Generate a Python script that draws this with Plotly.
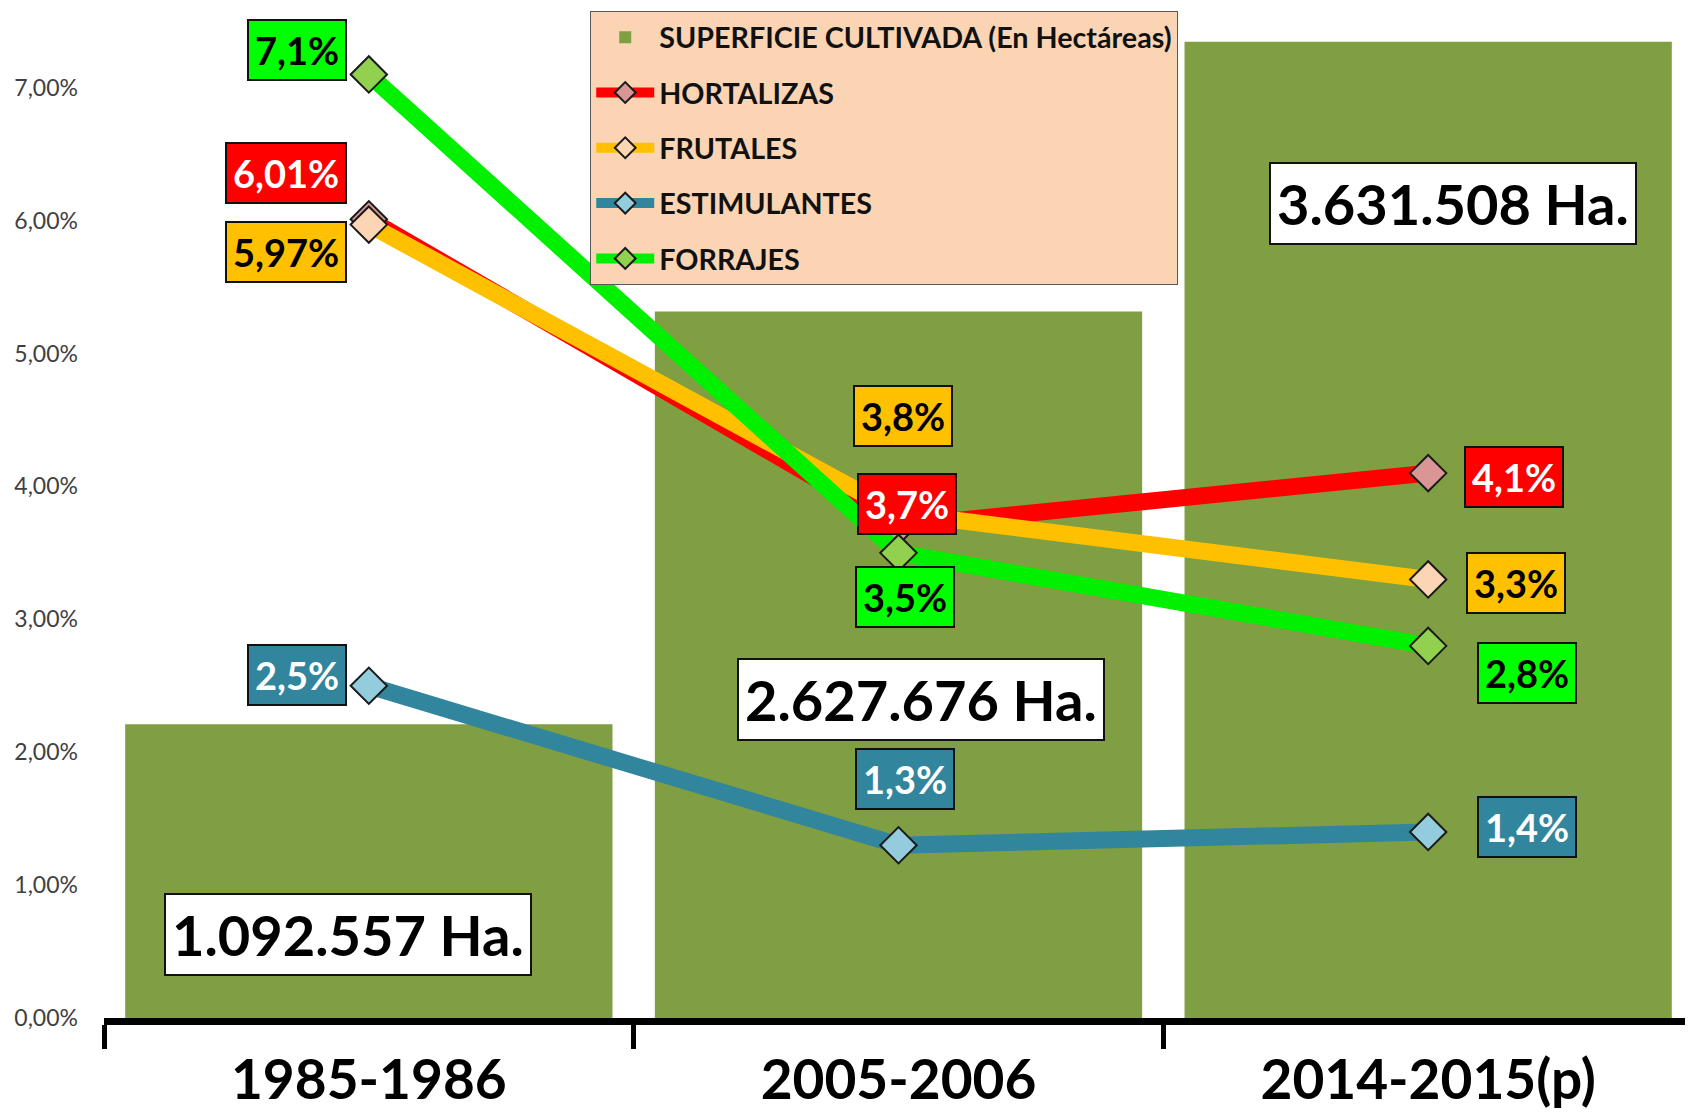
import plotly.graph_objects as go

# ---------------- data ----------------
CATEGORIES = ["1985-1986", "2005-2006", "2014-2015(p)"]
SUPERFICIE_HA = [1092557, 2627676, 3631508]
HORTALIZAS = [6.01, 3.7, 4.1]
FRUTALES = [5.97, 3.8, 3.3]
ESTIMULANTES = [2.5, 1.3, 1.4]
FORRAJES = [7.1, 3.5, 2.8]
PCT_TICKS = [0, 1, 2, 3, 4, 5, 6, 7]

# ---------------- layout / style config ----------------
FONT = "Lato"
PCT_MAX = 7.6
HA_MAX = 3757000
BAR_COLOR = "#809E42"

# label placement: (xanchor, xshift, yshift) per point
SERIES = [
    dict(name="HORTALIZAS", values=HORTALIZAS, line="#FF0000", marker="#D99694",
         box="#FF0000", txt="white",
         place=[("right", -22, 46), ("center", 8, 22), ("left", 36, -4)]),
    dict(name="FRUTALES", values=FRUTALES, line="#FFC000", marker="#FCD5B5",
         box="#FFC000", txt="black",
         place=[("right", -22, -27), ("center", 4, 97), ("left", 38, -4)]),
    dict(name="ESTIMULANTES", values=ESTIMULANTES, line="#31859C", marker="#93CDDD",
         box="#31859C", txt="white",
         place=[("right", -22, 11), ("center", 6, 66), ("left", 49, 5)]),
    dict(name="FORRAJES", values=FORRAJES, line="#00F000", marker="#92D050",
         box="#00FF00", txt="black",
         place=[("right", -22, 24), ("center", 6, -44), ("left", 49, -27)]),
]
HA_LABEL_Y = [0.625, 2.40, 6.13]      # vertical position (percent-axis units)
HA_LABEL_XSHIFT = [-21, 22, 25]


def fmt_pct(v):
    return str(v).replace(".", ",") + "%"


def fmt_ha(v):
    return f"{v:,}".replace(",", ".") + " Ha."


fig = go.Figure()

fig.add_trace(go.Bar(
    x=CATEGORIES, y=SUPERFICIE_HA, name="SUPERFICIE CULTIVADA (En Hectáreas)",
    marker=dict(color=BAR_COLOR, line=dict(width=0)),
    yaxis="y", legendgroup="g0",
))

for i, s in enumerate(SERIES):
    fig.add_trace(go.Scatter(
        x=CATEGORIES, y=s["values"], name=s["name"], mode="lines+markers",
        line=dict(color=s["line"], width=17),
        marker=dict(symbol="diamond", size=28, color=s["marker"],
                    line=dict(color="#1a1a1a", width=2)),
        yaxis="y2", legendgroup=f"g{i+1}",
    ))

annotations = []
for s in SERIES:
    for cat, v, (xa, xs, ys) in zip(CATEGORIES, s["values"], s["place"]):
        annotations.append(dict(
            x=cat, y=v, xref="x", yref="y2", text=fmt_pct(v), showarrow=False,
            xanchor=xa, yanchor="middle", xshift=xs, yshift=ys,
            bgcolor=s["box"], bordercolor="#111111", borderwidth=2, borderpad=6,
            font=dict(family=FONT, size=38, color=s["txt"], weight="bold"),
        ))

for cat, ha, ly, xs in zip(CATEGORIES, SUPERFICIE_HA, HA_LABEL_Y, HA_LABEL_XSHIFT):
    annotations.append(dict(
        x=cat, y=ly, xref="x", yref="y2", text=fmt_ha(ha), showarrow=False,
        xanchor="center", yanchor="middle", xshift=xs,
        bgcolor="white", bordercolor="#111111", borderwidth=2, borderpad=6,
        font=dict(family=FONT, size=56, color="black", weight="bold"),
    ))

pct_ticktext = [f"{t:.2f}".replace(".", ",") + "%" for t in PCT_TICKS]

fig.update_layout(
    width=1685, height=1105,
    margin=dict(l=96, r=0, t=0, b=95, autoexpand=False),
    paper_bgcolor="white", plot_bgcolor="white",
    separators=",.",
    bargap=0.08,
    showlegend=True,
    legend=dict(
        x=0.306, y=0.997, xanchor="left", yanchor="top",
        bgcolor="#FBD4B4", bordercolor="#595959", borderwidth=1,
        font=dict(family=FONT, size=28.7, color="#111111", weight="bold"),
        tracegroupgap=15, itemwidth=58, traceorder="grouped",
    ),
    xaxis=dict(
        type="category", categoryorder="array", categoryarray=CATEGORIES,
        showline=True, linecolor="black", linewidth=7,
        ticks="outside", tickson="boundaries", ticklen=24, tickwidth=5,
        tickcolor="black", showgrid=False, zeroline=False, automargin=False,
        ticklabelstandoff=8,
        tickfont=dict(family=FONT, size=55, color="black", weight="bold"),
    ),
    yaxis=dict(range=[0, HA_MAX], visible=False, showgrid=False, automargin=False),
    yaxis2=dict(
        range=[0, PCT_MAX], overlaying="y", side="left", anchor="x",
        tickmode="array", tickvals=PCT_TICKS, ticktext=pct_ticktext,
        showgrid=False, zeroline=False, showline=False, ticks="",
        ticklabelstandoff=25, automargin=False,
        tickfont=dict(family=FONT, size=23, color="#404040"),
    ),
    annotations=annotations,
)

fig.write_html("out.html")
